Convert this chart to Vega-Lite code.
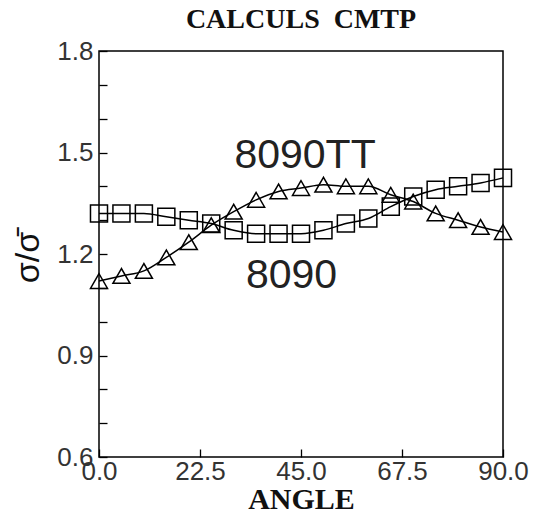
{
  "$schema": "https://vega.github.io/schema/vega-lite/v6.json",
  "width": 404,
  "height": 406,
  "autosize": "none",
  "padding": {"left": 99, "top": 51, "right": 32, "bottom": 59},
  "background": "white",
  "title": {"text": "CALCULS\u00a0\u00a0CMTP", "font": "Liberation Serif", "fontSize": 28, "fontWeight": "bold", "color": "#111", "anchor": "middle", "baseline": "alphabetic", "offset": 23, "dy": 41},
  "config": {
    "view": {"stroke": "black", "strokeWidth": 1.5},
    "axis": {"grid": false, "domain": false, "tickColor": "black", "tickWidth": 1.3}
  },
  "datasets": {
    "curves": [
      {"angle": 0, "value": 1.32, "series": "8090"},
      {"angle": 5, "value": 1.32, "series": "8090"},
      {"angle": 10, "value": 1.32, "series": "8090"},
      {"angle": 15, "value": 1.31, "series": "8090"},
      {"angle": 20, "value": 1.30, "series": "8090"},
      {"angle": 25, "value": 1.29, "series": "8090"},
      {"angle": 30, "value": 1.27, "series": "8090"},
      {"angle": 35, "value": 1.26, "series": "8090"},
      {"angle": 40, "value": 1.26, "series": "8090"},
      {"angle": 45, "value": 1.26, "series": "8090"},
      {"angle": 50, "value": 1.27, "series": "8090"},
      {"angle": 55, "value": 1.29, "series": "8090"},
      {"angle": 60, "value": 1.305, "series": "8090"},
      {"angle": 65, "value": 1.34, "series": "8090"},
      {"angle": 70, "value": 1.37, "series": "8090"},
      {"angle": 75, "value": 1.39, "series": "8090"},
      {"angle": 80, "value": 1.40, "series": "8090"},
      {"angle": 85, "value": 1.41, "series": "8090"},
      {"angle": 90, "value": 1.425, "series": "8090"},
      {"angle": 0, "value": 1.12, "series": "8090TT"},
      {"angle": 5, "value": 1.135, "series": "8090TT"},
      {"angle": 10, "value": 1.15, "series": "8090TT"},
      {"angle": 15, "value": 1.19, "series": "8090TT"},
      {"angle": 20, "value": 1.235, "series": "8090TT"},
      {"angle": 25, "value": 1.285, "series": "8090TT"},
      {"angle": 30, "value": 1.325, "series": "8090TT"},
      {"angle": 35, "value": 1.36, "series": "8090TT"},
      {"angle": 40, "value": 1.385, "series": "8090TT"},
      {"angle": 45, "value": 1.395, "series": "8090TT"},
      {"angle": 50, "value": 1.405, "series": "8090TT"},
      {"angle": 55, "value": 1.40, "series": "8090TT"},
      {"angle": 60, "value": 1.40, "series": "8090TT"},
      {"angle": 65, "value": 1.375, "series": "8090TT"},
      {"angle": 70, "value": 1.355, "series": "8090TT"},
      {"angle": 75, "value": 1.32, "series": "8090TT"},
      {"angle": 80, "value": 1.30, "series": "8090TT"},
      {"angle": 85, "value": 1.28, "series": "8090TT"},
      {"angle": 90, "value": 1.265, "series": "8090TT"}
    ],
    "labels": [
      {"angle": 45.9, "value": 1.454, "label": "8090TT"},
      {"angle": 42.9, "value": 1.099, "label": "8090"}
    ]
  },
  "encoding": {
    "x": {
      "field": "angle", "type": "quantitative",
      "scale": {"domain": [0, 90], "nice": false, "zero": false},
      "axis": {
        "title": "ANGLE", "titleFont": "Liberation Serif", "titleFontWeight": "bold", "titleFontSize": 30, "titleColor": "#111",
        "titleX": 202, "titleY": 51, "titleBaseline": "alphabetic", "titleAlign": "center",
        "values": [0, 22.5, 45, 67.5, 90], "format": ".1f",
        "labelFont": "Liberation Sans", "labelFontSize": 26, "labelColor": "#333", "labelFlush": false,
        "labelDx": -5, "tickSize": -8, "labelPadding": 9, "labelOverlap": false
      }
    },
    "y": {
      "field": "value", "type": "quantitative",
      "scale": {"domain": [0.6, 1.8], "nice": false, "zero": false},
      "axis": {
        "title": "σ/σ̄", "titleFont": "Liberation Sans", "titleFontWeight": "normal", "titleFontSize": 34, "titleColor": "#111",
        "titleX": -71, "titleY": 206, "titleAngle": -90, "titleAlign": "center", "titleBaseline": "middle",
        "values": [0.6, 0.7, 0.8, 0.9, 1.0, 1.1, 1.2, 1.3, 1.4, 1.5, 1.6, 1.7, 1.8],
        "labelExpr": "indexof(['0.6','0.9','1.2','1.5','1.8'], format(datum.value, '.1f')) >= 0 ? format(datum.value, '.1f') : ''",
        "labelFont": "Liberation Sans", "labelFontSize": 26, "labelColor": "#333",
        "labelFlush": false, "labelOverlap": false, "labelDy": 2,
        "tickSize": -8, "labelPadding": 14
      }
    }
  },
  "layer": [
    {
      "data": {"name": "curves"},
      "mark": {"type": "line", "interpolate": "monotone", "color": "black", "strokeWidth": 1.5},
      "encoding": {"detail": {"field": "series"}}
    },
    {
      "data": {"name": "curves"},
      "mark": {"type": "point", "filled": false, "color": "black", "strokeWidth": 1.5, "size": 290, "opacity": 1},
      "encoding": {
        "shape": {"field": "series", "type": "nominal", "scale": {"domain": ["8090", "8090TT"], "range": ["square", "triangle-up"]}, "legend": null}
      }
    },
    {
      "data": {"name": "labels"},
      "mark": {"type": "text", "font": "Liberation Sans", "fontSize": 41, "color": "#222", "align": "center", "baseline": "alphabetic"},
      "encoding": {"text": {"field": "label"}}
    }
  ]
}
